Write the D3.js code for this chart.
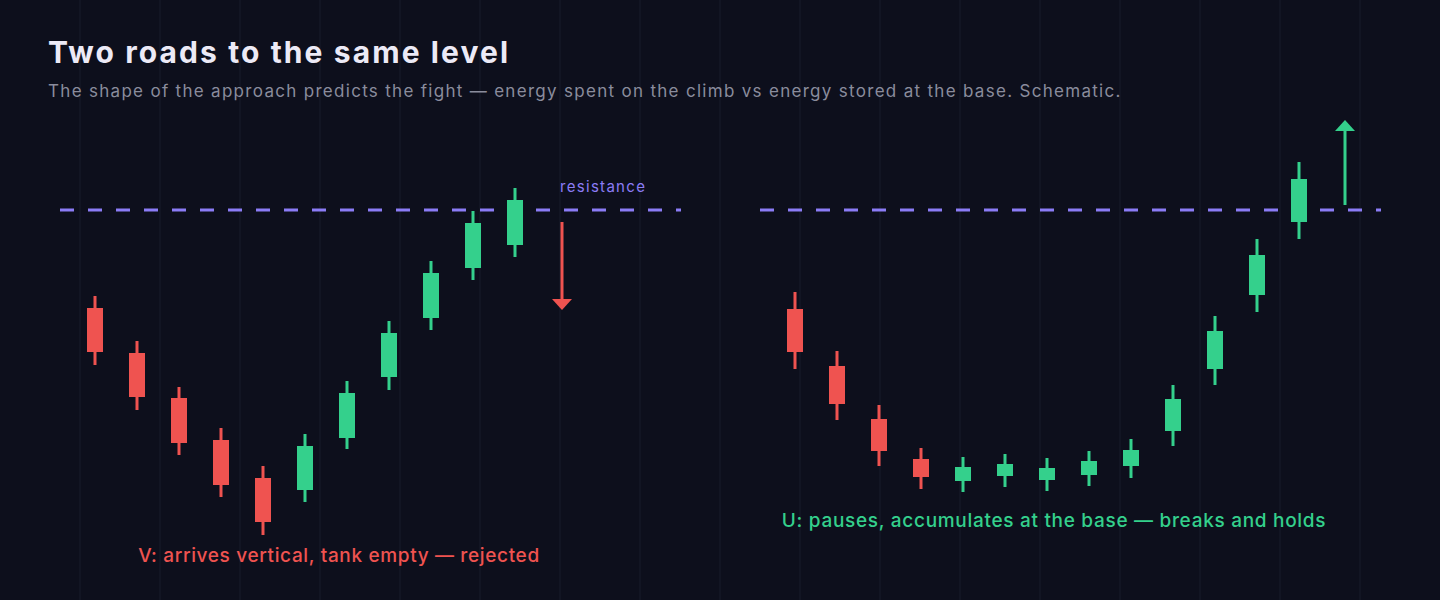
<!DOCTYPE html>
<html><head><meta charset="utf-8">
<script src="https://cdn.jsdelivr.net/npm/d3@7"></script>
<style>html,body{margin:0;background:#0d0f1c;}svg{display:block;font-family:Inter,"Noto Sans",sans-serif;}</style>
</head><body><svg id="c" width="1440" height="600"></svg>
<script>
const vOpen  = [292,247,202,160,122,110,162,223,282,332,355];
const vClose = [248,203,157,115,78,154,207,267,327,377,400];
const vHigh  = [304,259,213,172,134,166,219,279,339,389,412];
const vLow   = [235,190,145,103,65,98,151,210,270,320,343];
const uOpen  = [291,234,181,141,119,124,120,125,134,169,231,305,378];
const uClose = [248,196,149,123,133,136,132,139,150,201,269,345,421];
const uHigh  = [308,249,195,152,143,146,142,149,161,215,284,361,438];
const uLow   = [231,180,134,111,108,113,109,114,122,154,215,288,361];
const resistance = 390;
const vArrow = [378,290];
const uArrow = [395,480];
const title = "Two roads to the same level";
const subtitle = "The shape of the approach predicts the fight — energy spent on the climb vs energy stored at the base. Schematic.";
const vLabel = "V: arrives vertical, tank empty — rejected";
const uLabel = "U: pauses, accumulates at the base — breaks and holds";

const RED="#ef5350", GREEN="#34d08c", PURPLE="#8b7cf6";
const svg=d3.select("#c");
const y=d3.scaleLinear().domain([0,600]).range([600,0]);
svg.append("g").selectAll("line").data(d3.range(80,1440,80)).join("line")
 .attr("x1",d=>d).attr("x2",d=>d).attr("y1",0).attr("y2",600)
 .attr("stroke","#191c2b").attr("stroke-width",1);
svg.append("text").attr("x",48).attr("y",63).attr("fill","#eceaf6").attr("font-size",30).attr("font-weight",700).attr("letter-spacing",2.1).text(title);
svg.append("text").attr("x",48).attr("y",97).attr("fill","#8a8c9c").attr("font-size",17).attr("letter-spacing",1.3).text(subtitle);

function panel(O,C,H,L,x0,x1){
  const x=d3.scaleLinear().domain([0,O.length-1]).range([x0,x1]);
  const g=svg.append("g");
  O.forEach((o,i)=>{
    const col=C[i]>=o?GREEN:RED;
    g.append("line").attr("x1",x(i)).attr("x2",x(i)).attr("y1",y(H[i])).attr("y2",y(L[i])).attr("stroke",col).attr("stroke-width",3);
    g.append("rect").attr("x",x(i)-8).attr("width",16).attr("y",y(Math.max(o,C[i]))).attr("height",Math.abs(y(o)-y(C[i]))).attr("fill",col);
  });
}
function resLine(a,b){
  svg.append("line").attr("x1",a).attr("x2",b).attr("y1",y(resistance)).attr("y2",y(resistance))
   .attr("stroke",PURPLE).attr("stroke-width",3).attr("stroke-dasharray","14 14");
}
resLine(60,681); resLine(760,1381);
panel(vOpen,vClose,vHigh,vLow,95,515);
panel(uOpen,uClose,uHigh,uLow,795,1299);
svg.append("text").attr("x",560).attr("y",192).attr("fill",PURPLE).attr("font-size",15).attr("letter-spacing",1.3).text("resistance");
function arrow(xp,a,b,col){
  const dir=b>a?1:-1;
  svg.append("line").attr("x1",xp).attr("x2",xp).attr("y1",y(a)).attr("y2",y(b)+dir*8).attr("stroke",col).attr("stroke-width",3);
  svg.append("path").attr("d",`M${xp-10},${y(b)+dir*11}L${xp+10},${y(b)+dir*11}L${xp},${y(b)}Z`).attr("fill",col);
}
arrow(562,vArrow[0],vArrow[1],RED);
arrow(1345,uArrow[0],uArrow[1],GREEN);
svg.append("text").attr("x",339).attr("y",562).attr("text-anchor","middle").attr("fill",RED).attr("font-size",19).attr("font-weight",500).attr("letter-spacing",0.65).text(vLabel);
svg.append("text").attr("x",1054).attr("y",527).attr("text-anchor","middle").attr("fill",GREEN).attr("font-size",19).attr("font-weight",500).attr("letter-spacing",0.7).text(uLabel);
</script></body></html>
